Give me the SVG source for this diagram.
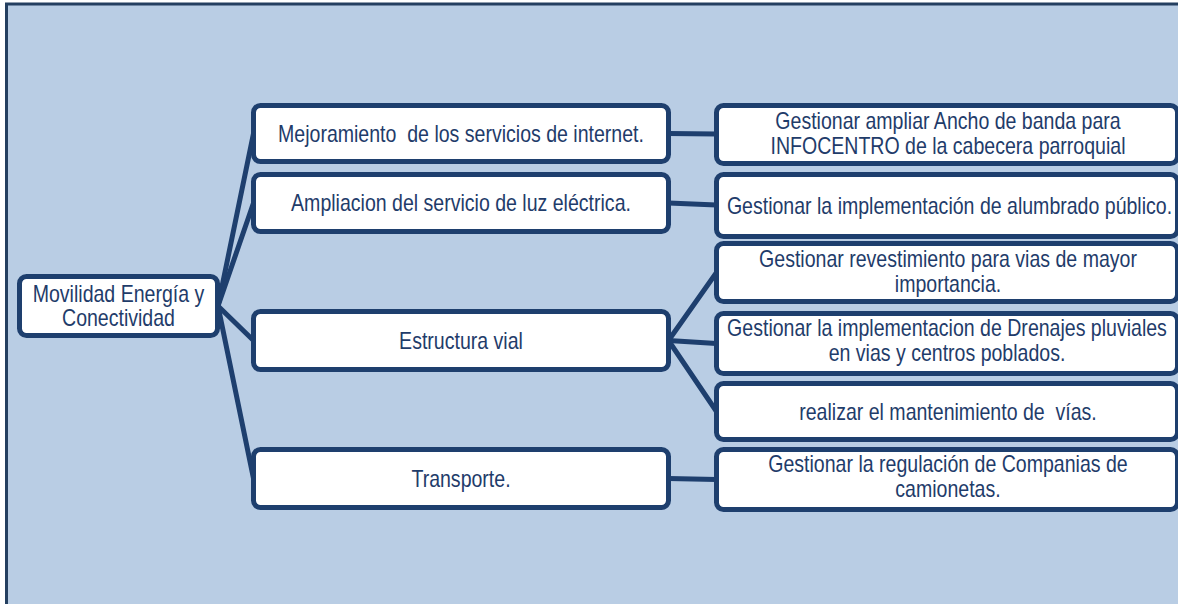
<svg xmlns="http://www.w3.org/2000/svg" width="1178" height="604" viewBox="0 0 1178 604">
<style>
.bg{fill:#b9cde4;stroke:#243f60;stroke-width:3}
.node{fill:#ffffff;stroke:#1e3f6e;stroke-width:5}
.conn{stroke:#1e3f6e;stroke-width:5;fill:none;stroke-linecap:round}
text{font-family:"Liberation Sans",Arial,sans-serif;fill:#1f3c6a;text-anchor:middle;font-size:23px;white-space:pre}
</style>
<rect class="bg" x="6.5" y="4" width="1200" height="700"/>
<g id="connectors">
<line class="conn" x1="218" y1="306" x2="253.5" y2="133.5"/>
<line class="conn" x1="218" y1="306" x2="253.5" y2="203"/>
<line class="conn" x1="218" y1="306" x2="253.5" y2="340.5"/>
<line class="conn" x1="218" y1="306" x2="253.5" y2="478.5"/>
<line class="conn" x1="668.5" y1="133.5" x2="716.5" y2="134"/>
<line class="conn" x1="668.5" y1="203" x2="716.5" y2="205"/>
<line class="conn" x1="668.5" y1="340.5" x2="716.5" y2="272.5"/>
<line class="conn" x1="668.5" y1="340.5" x2="716.5" y2="343.5"/>
<line class="conn" x1="668.5" y1="340.5" x2="716.5" y2="411.5"/>
<line class="conn" x1="668.5" y1="478.5" x2="716.5" y2="479.5"/>
</g>
<g id="root">
<rect class="node" x="19.5" y="276.5" width="198" height="59" rx="7"/>
<text transform="translate(118.5 0) scale(0.85 1)" y="302">Movilidad Energía y</text>
<text transform="translate(118.5 0) scale(0.85 1)" y="326">Conectividad</text>
</g>
<g id="n-internet">
<rect class="node" x="253.5" y="105.5" width="415" height="56" rx="7"/>
<text transform="translate(461 0) scale(0.85 1)" y="142">Mejoramiento  de los servicios de internet.</text>
</g>
<g id="n-luz">
<rect class="node" x="253.5" y="174.5" width="415" height="57" rx="7"/>
<text transform="translate(461 0) scale(0.85 1)" y="211.5">Ampliacion del servicio de luz eléctrica.</text>
</g>
<g id="n-vial">
<rect class="node" x="253.5" y="311.5" width="415" height="58" rx="7"/>
<text transform="translate(461 0) scale(0.85 1)" y="349">Estructura vial</text>
</g>
<g id="n-transporte">
<rect class="node" x="253.5" y="449.5" width="415" height="58" rx="7"/>
<text transform="translate(461 0) scale(0.85 1)" y="487">Transporte.</text>
</g>
<g id="n-ancho">
<rect class="node" x="716.5" y="105.5" width="461" height="58" rx="7"/>
<text transform="translate(948 0) scale(0.85 1)" y="129">Gestionar ampliar Ancho de banda para</text>
<text transform="translate(948 0) scale(0.85 1)" y="154">INFOCENTRO de la cabecera parroquial</text>
</g>
<g id="n-alumbrado">
<rect class="node" x="716.5" y="174.5" width="461" height="62" rx="7"/>
<text transform="translate(949.5 0) scale(0.85 1)" y="214">Gestionar la implementación de alumbrado público.</text>
</g>
<g id="n-revestimiento">
<rect class="node" x="716.5" y="243.5" width="461" height="58" rx="7"/>
<text transform="translate(948 0) scale(0.85 1)" y="267.5">Gestionar revestimiento para vias de mayor</text>
<text transform="translate(948 0) scale(0.85 1)" y="292">importancia.</text>
</g>
<g id="n-drenajes">
<rect class="node" x="716.5" y="313.5" width="461" height="60" rx="7"/>
<text transform="translate(947 0) scale(0.85 1)" y="336.5">Gestionar la implementacion de Drenajes pluviales</text>
<text transform="translate(947 0) scale(0.85 1)" y="361">en vias y centros poblados.</text>
</g>
<g id="n-mantenimiento">
<rect class="node" x="716.5" y="383.5" width="461" height="56" rx="7"/>
<text transform="translate(948 0) scale(0.85 1)" y="420">realizar el mantenimiento de  vías.</text>
</g>
<g id="n-camionetas">
<rect class="node" x="716.5" y="449.5" width="461" height="60" rx="7"/>
<text transform="translate(948 0) scale(0.85 1)" y="472.5">Gestionar la regulación de Companias de</text>
<text transform="translate(948 0) scale(0.85 1)" y="497">camionetas.</text>
</g>
</svg>
